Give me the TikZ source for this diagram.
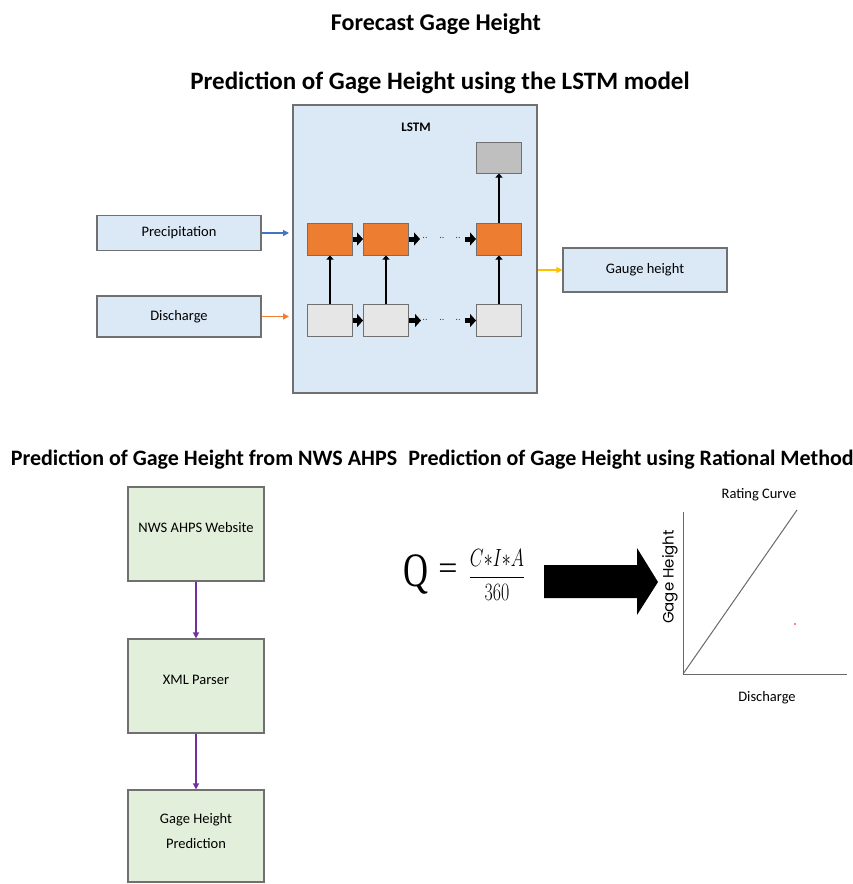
\documentclass[tikz,border=0pt]{standalone}
\usepackage{amsmath}
\usepackage[no-math]{fontspec}
\setmainfont{Carlito}
\newfontfamily\axisfont{Poppins}
\newfontfamily\eqfont{Liberation Serif}
\usetikzlibrary{arrows.meta}
\definecolor{boxBlue}{RGB}{219, 232, 246}
\definecolor{boxGreen}{RGB}{226, 239, 218}
\definecolor{boxEdge}{RGB}{112, 112, 112}
\definecolor{cellOrange}{RGB}{237, 125, 49}
\definecolor{cellLight}{RGB}{231, 230, 230}
\definecolor{cellGrey}{RGB}{191, 191, 191}
\definecolor{lineBlue}{RGB}{68, 114, 196}
\definecolor{lineYellow}{RGB}{255, 192, 0}
\definecolor{linePurple}{RGB}{112, 48, 160}
\definecolor{axisGrey}{RGB}{105, 105, 105}
\tikzset{
  inbox/.style={draw=boxEdge, line width=1.2pt, fill=boxBlue, minimum width=164pt, inner sep=0pt, font=\fontsize{14.5}{16}\selectfont},
  flowbox/.style={draw=boxEdge, line width=1.2pt, fill=boxGreen, minimum width=136pt, inner sep=0pt},
  flowtext/.style={align=center, inner sep=0pt, font=\fontsize{14.5}{25}\selectfont},
  cell/.style={draw=boxEdge, line width=1pt, minimum width=45pt, minimum height=32pt, inner sep=0pt},
  heading/.style={font=\bfseries\fontsize{22}{24}\selectfont},
  fat/.style={line width=5pt, -{Triangle[length=6pt, width=13pt]}},
  up/.style={line width=2.5pt, -{Triangle[length=4pt, width=7pt]}},
  thin/.style={line width=1.3pt, -{Triangle[length=6pt, width=6pt]}}
}
\begin{document}
\begin{tikzpicture}[x=1pt, y=-1pt]
  \useasboundingbox (0,0) rectangle (853,884);
  % titles
  \node[heading, font=\bfseries\fontsize{24}{26}\selectfont] (title) at (436,24) {Forecast Gage Height};
  \node[heading, font=\bfseries\fontsize{25}{27}\selectfont] (lstmTitle) at (440,83) {Prediction of Gage Height using the LSTM model};
  \node[heading] (ahpsTitle) at (204,460) {Prediction of Gage Height from NWS AHPS};
  \node[heading] (ratTitle) at (631,460) {Prediction of Gage Height using Rational Method};

  % LSTM model
  \node[draw=boxEdge, line width=1.2pt, fill=boxBlue, minimum width=244pt, minimum height=288pt] (lstm) at (415,249) {};
  \node[font=\bfseries\fontsize{13}{15}\selectfont] (lstmLabel) at (416,127) {LSTM};
  \node[inbox, minimum height=35pt] (prec) at (179,233) {Precipitation};
  \node[inbox, minimum height=41pt] (dis) at (179,316.5) {Discharge};
  \node[inbox, minimum height=44pt] (gauge) at (645,270) {Gauge height};

  \node[cell, fill=cellOrange] (o1) at (330,239) {};
  \node[cell, fill=cellOrange] (o2) at (386,239) {};
  \node[cell, fill=cellOrange] (o3) at (499,239) {};
  \node[cell, fill=cellLight] (g1) at (330,320.5) {};
  \node[cell, fill=cellLight] (g2) at (386,320.5) {};
  \node[cell, fill=cellLight] (g3) at (499,320.5) {};
  \node[cell, fill=cellGrey, minimum height=31pt] (out) at (499,157.5) {};

  \coordinate (oGap) at (420,239);
  \coordinate (oBack) at (465,239);
  \coordinate (gGap) at (421,320.5);
  \coordinate (gBack) at (465,320.5);
  \foreach \dx in {425,442,458} {
    \node[font=\fontsize{10}{10}\selectfont, text=darkgray, inner sep=0pt] at (\dx,238) {..};
    \node[font=\fontsize{10}{10}\selectfont, text=darkgray, inner sep=0pt] at (\dx,319.5) {..};
  }
  \draw[fat] (o1) -- (o2);
  \draw[fat] (o2.east) -- (oGap);
  \draw[fat] (oBack) -- (o3.west);
  \draw[fat] (g1) -- (g2);
  \draw[fat] (g2.east) -- (gGap);
  \draw[fat] (gBack) -- (g3.west);
  \draw[up] (g1) -- (o1);
  \draw[up] (g2) -- (o2);
  \draw[up] (g3) -- (o3);
  \draw[up] (o3) -- (out);

  \coordinate (precIn) at (289,233);
  \coordinate (disIn) at (289,316.5);
  \draw[thin, lineBlue] (prec) -- (precIn);
  \draw[thin, cellOrange] (dis) -- (disIn);
  \draw[thin, lineYellow] (lstm.east |- gauge) -- (gauge);

  % NWS AHPS
  \node[flowbox, minimum height=94pt] (nws) at (196,534) {};
  \node[flowbox, minimum height=94pt] (xml) at (196,686) {};
  \node[flowbox, minimum height=92pt] (pred) at (196,836) {};
  \node[flowtext] (nwsText) at ([yshift=6pt]nws.center) {NWS AHPS Website};
  \node[flowtext] (xmlText) at ([yshift=6pt]xml.center) {XML Parser};
  \node[flowtext] (predText) at ([yshift=5pt]pred.center) {Gage Height\\Prediction};
  \draw[thin, linePurple] (nws) -- (xml);
  \draw[thin, linePurple] (xml) -- (pred);

  % rational method
  \node[inner sep=0pt] (q) at (416,574) {\scalebox{0.72}[1]{\eqfont\fontsize{48}{48}\selectfont Q}};
  \node[inner sep=0pt] (eqSign) at (448,572) {\eqfont\fontsize{34}{34}\selectfont =};
  \node[inner sep=0pt] (frac) at (497,575) {\scalebox{0.72}[1]{\fontsize{25}{25}\selectfont$\dfrac{C{\ast}I{\ast}A}{360}$}};
  \coordinate (tail) at (544,582);
  \fill (tail) ++(0,-17) -- ++(93,0) -- ++(0,-17) -- (658,582) -- (637,615) -- (637,598) -- (544,598) -- cycle;

  \coordinate (origin) at (683,674);
  \draw[axisGrey, line width=1pt] (683,512) -- (origin) -- (847,674);
  \draw[axisGrey, line width=1pt] (origin) -- (797,510);
  \node[font=\fontsize{14.5}{16}\selectfont] (rating) at (759,495) {Rating Curve};
  \node[font=\fontsize{14.5}{16}\selectfont] (xLabel) at (767,698) {Discharge};
  \node[font=\axisfont\fontsize{15}{17}\selectfont, rotate=90] (yLabel) at (670,577) {Gage Height};
  \fill[red] (795,624) circle (0.8pt);
\end{tikzpicture}
\end{document}
